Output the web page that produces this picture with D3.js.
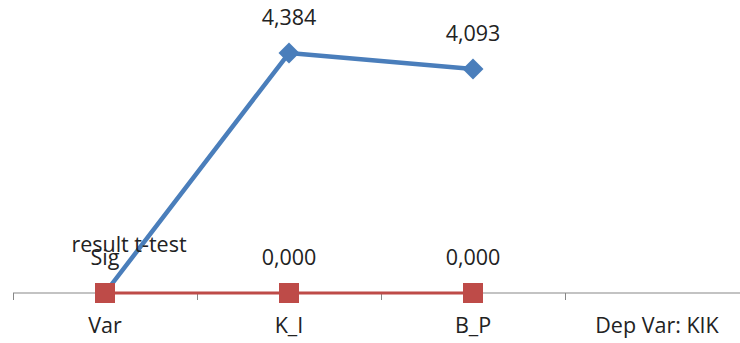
<!DOCTYPE html>
<html>
<head>
<meta charset="utf-8">
<script src="https://cdn.jsdelivr.net/npm/d3@7"></script>
<style>
  html, body { margin: 0; padding: 0; background: #fff; }
  svg text { font-family: "Open Sans", "Liberation Sans", sans-serif; fill: #222; }
</style>
</head>
<body>
<svg id="chart" width="740" height="343"></svg>
<script>
// Categories along the x axis
const categories = ["Var", "K_I", "B_P", "Dep Var: KIK"];
// Series names (shown as the label of the first point)
const seriesNames = ["result t-test", "Sig"];
// Series values for the first three categories
const tValues = [0, 4.384, 4.093];
const sigValues = [0, 0, 0];

const svg = d3.select("#chart");
const W = 740, H = 343;
const axisY = 293;
const fontSize = "21.5px";

const x = d3.scaleBand().domain(categories).range([13, 749]).padding(0);
const y = d3.scaleLinear().domain([0, 5]).range([axisY, 19.3]);
const cx = c => x(c) + x.bandwidth() / 2;

// decimal comma formatting
const fmt = v => d3.format(".3f")(v).replace(".", ",");

// x axis
const gAxis = svg.append("g").attr("transform", `translate(0,${axisY})`);
gAxis.append("line").attr("x1", 13).attr("x2", W).attr("y1", 0).attr("y2", 0)
  .attr("stroke", "#878787").attr("stroke-width", 1);
// category boundary ticks
const bounds = categories.map(c => x(c));
gAxis.selectAll("line.tick").data(bounds).join("line")
  .attr("class", "tick")
  .attr("x1", d => Math.round(d) + 0.5).attr("x2", d => Math.round(d) + 0.5)
  .attr("y1", 0).attr("y2", 7)
  .attr("stroke", "#878787").attr("stroke-width", 1);
gAxis.selectAll("text.cat").data(categories).join("text")
  .attr("class", "cat")
  .attr("x", d => cx(d)).attr("y", 40)
  .attr("text-anchor", "middle")
  .style("font-size", fontSize)
  .text(d => d);

const pts = (vals) => vals.map((v, i) => ({ c: categories[i], v, i }));

// blue series
const blue = "#4A7EBB", red = "#BE4B48";
const line = d3.line().x(d => cx(d.c)).y(d => y(d.v));
svg.append("path").datum(pts(tValues)).attr("d", line)
  .attr("fill", "none").attr("stroke", blue).attr("stroke-width", 4.5)
  .attr("stroke-linejoin", "round");
svg.selectAll("path.diamond").data(pts(tValues).slice(1)).join("path")
  .attr("class", "diamond")
  .attr("d", d3.symbol(d3.symbolDiamond2, 280))
  .attr("transform", d => `translate(${cx(d.c)},${y(d.v)})`)
  .attr("fill", blue);

// red series
svg.append("path").datum(pts(sigValues)).attr("d", line)
  .attr("fill", "none").attr("stroke", red).attr("stroke-width", 3);
const sq = 20;
svg.selectAll("rect.sq").data(pts(sigValues)).join("rect")
  .attr("class", "sq")
  .attr("x", d => cx(d.c) - sq / 2).attr("y", d => y(d.v) - sq / 2)
  .attr("width", sq).attr("height", sq)
  .attr("fill", red);

// data labels
svg.selectAll("text.tl").data(pts(tValues)).join("text")
  .attr("class", "tl")
  .attr("x", d => d.i === 0 ? cx(d.c) + 24 : cx(d.c))
  .attr("y", d => d.i === 0 ? y(d.v) - 41 : y(d.v) - 28)
  .attr("text-anchor", "middle")
  .style("font-size", fontSize)
  .text(d => d.i === 0 ? seriesNames[0] : fmt(d.v));

svg.selectAll("text.sl").data(pts(sigValues)).join("text")
  .attr("class", "sl")
  .attr("x", d => cx(d.c))
  .attr("y", d => y(d.v) - 28)
  .attr("text-anchor", "middle")
  .style("font-size", fontSize)
  .text(d => d.i === 0 ? seriesNames[1] : fmt(d.v));
</script>
</body>
</html>
